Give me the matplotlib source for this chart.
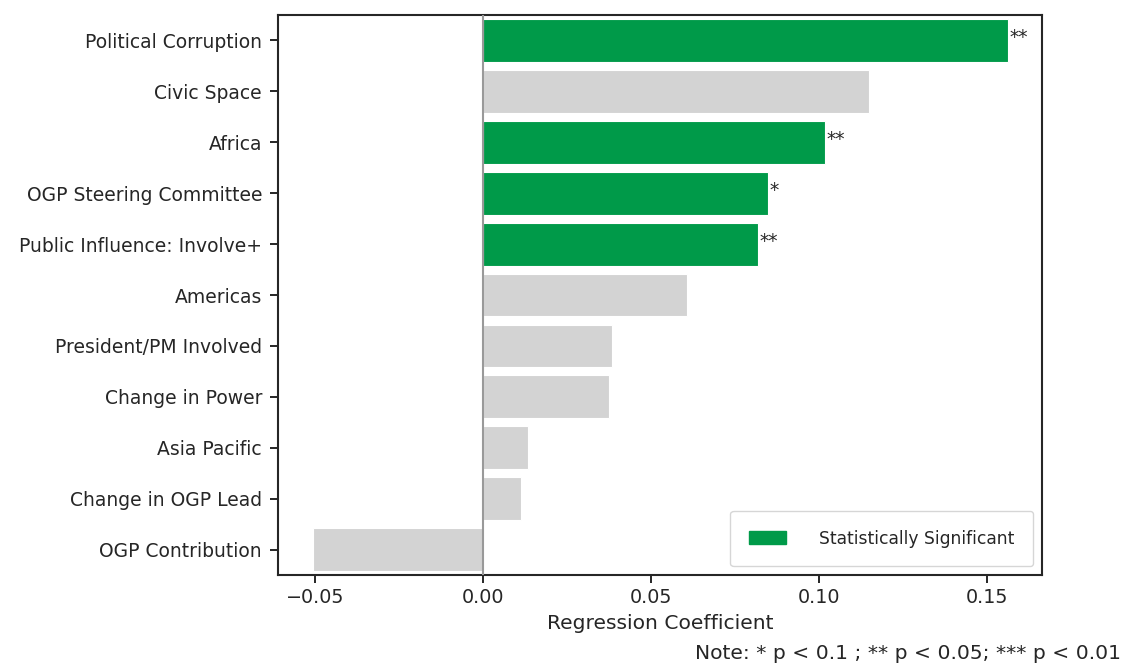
import matplotlib
matplotlib.use("Agg")
import matplotlib.pyplot as plt
import seaborn as sns
from matplotlib.patches import Patch

labels = ["Political Corruption", "Civic Space", "Africa", "OGP Steering Committee",
          "Public Influence: Involve+", "Americas", "President/PM Involved",
          "Change in Power", "Asia Pacific", "Change in OGP Lead", "OGP Contribution"]
coefs = [0.1563, 0.1149, 0.1018, 0.0848, 0.0818, 0.0607, 0.0384, 0.0375, 0.0134, 0.0113, -0.0506]
stars = ["**", "", "**", "*", "**", "", "", "", "", "", ""]

GREEN = "#009a49"; GREY = "#d3d3d3"

sns.set_theme(style="ticks")
plt.rcParams["font.family"] = ["DejaVu Sans"]

fig = plt.figure(figsize=(11.23, 6.65), dpi=100)
ax = fig.add_axes([0.2476, 0.1353, 0.6803, 0.8421])

cols = [GREEN if s else GREY for s in stars]
ypos = list(range(len(labels)))
ax.barh(ypos, coefs, height=0.84, color=cols, edgecolor="white", linewidth=0.8)
ax.axvline(0, color="#999999", lw=1.5, zorder=3)
for y, v, s in zip(ypos, coefs, stars):
    if s:
        ax.text(v + 0.0005, y - 0.06, s, va="center", ha="left", fontsize=13.5, color="#262626")

ax.set_yticks(ypos); ax.set_yticklabels(labels, fontsize=13.5)
ax.set_ylim(len(labels) - 0.5, -0.5)
ax.set_xlim(-0.061, 0.1664)
ax.set_xticks([-0.05, 0, 0.05, 0.10, 0.15])
ax.set_xticklabels(["\u22120.05", "0.00", "0.05", "0.10", "0.15"], fontsize=13.8)
ax.set_xlabel("Regression Coefficient", fontsize=14.6, labelpad=5)
for sp in ax.spines.values():
    sp.set_linewidth(1.5); sp.set_color("#262626")
ax.tick_params(width=1.4, length=6, colors="#262626")
ax.tick_params(axis="y", pad=5.5)

ax.legend(handles=[Patch(color=GREEN, label="Statistically Significant")], loc="lower right",
          fontsize=12.3, handlelength=2.15, handleheight=0.75, handletextpad=1.95,
          borderpad=1.1, frameon=True)
fig.text(0.998, 0.003, "Note: * p < 0.1 ; ** p < 0.05; *** p < 0.01", ha="right", va="bottom",
         fontsize=14.6, color="#262626")
fig.savefig("out.png", dpi=100)
